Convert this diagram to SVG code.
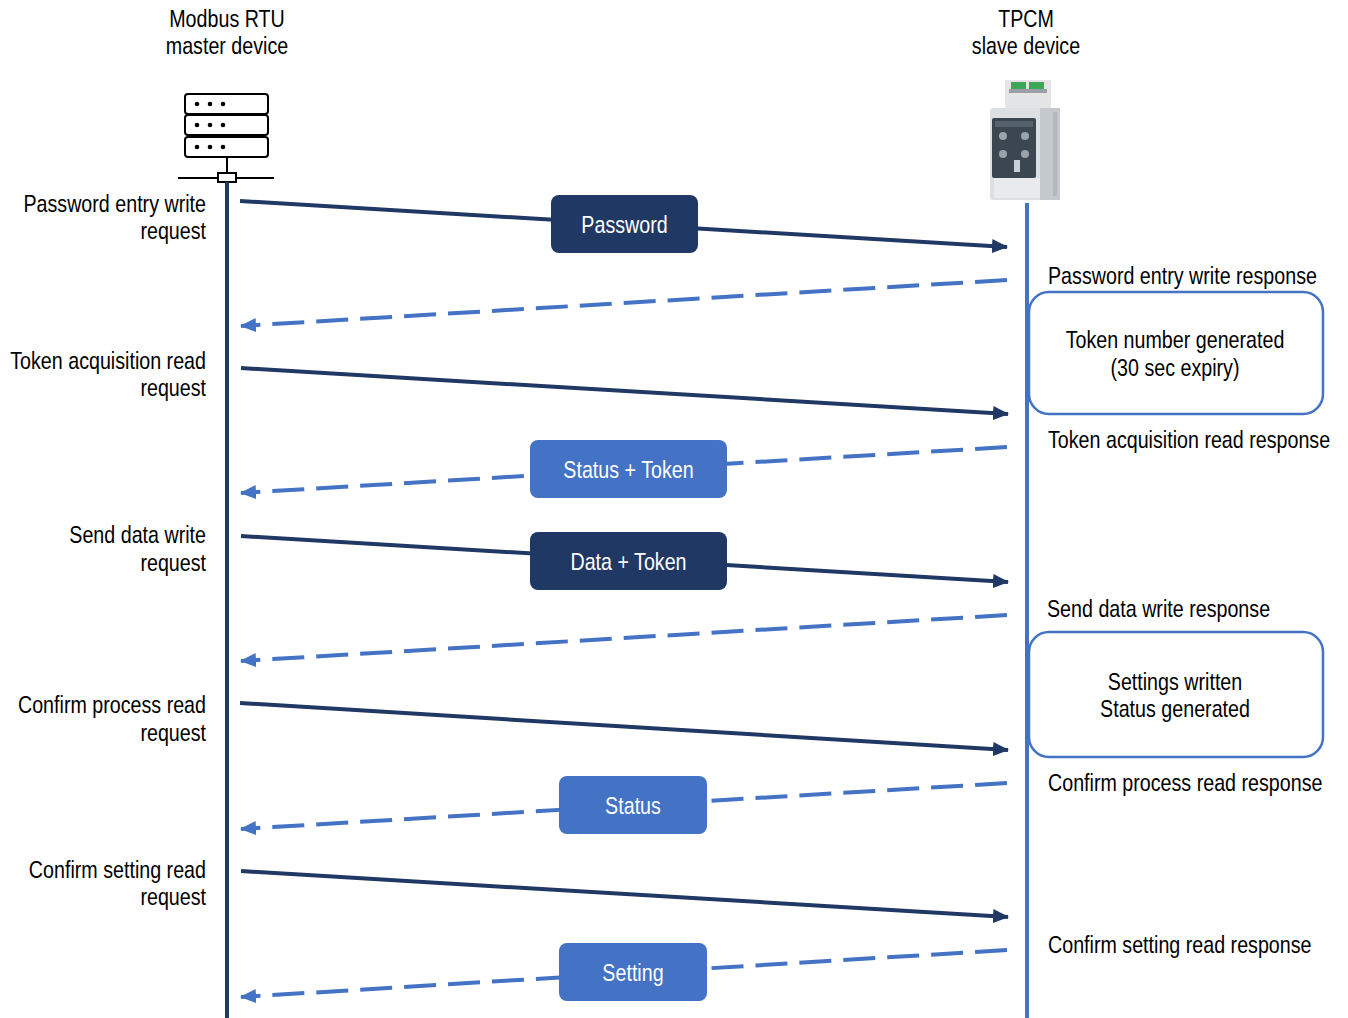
<svg xmlns="http://www.w3.org/2000/svg" width="1348" height="1018" viewBox="0 0 1348 1018">
<style>
text{font-family:"Liberation Sans",Arial,sans-serif;font-size:24px;fill:#000}
.r{text-anchor:end}
.m{text-anchor:middle}
.w{fill:#fff;text-anchor:middle}
.req{stroke:#203864;stroke-width:4;fill:none;marker-end:url(#an)}
.rsp{stroke:#4472C4;stroke-width:4;fill:none;stroke-dasharray:32 12;marker-end:url(#ab)}
.bn{fill:#203864}
.bb{fill:#4472C4}
.note{fill:#fff;stroke:#4472C4;stroke-width:2.5}
.srv{fill:#fff;stroke:#000;stroke-width:2}
</style>
<defs>
<marker id="an" markerUnits="userSpaceOnUse" markerWidth="16" markerHeight="14" refX="15" refY="7" orient="auto"><path d="M0,0 L16,7 L0,14 z" fill="#203864"/></marker>
<marker id="ab" markerUnits="userSpaceOnUse" markerWidth="16" markerHeight="14" refX="15" refY="7" orient="auto"><path d="M0,0 L16,7 L0,14 z" fill="#4472C4"/></marker>
</defs>
<rect width="1348" height="1018" fill="#fff"/>

<g id="master">
<text class="m" transform="translate(227 27) scale(0.82 1)">Modbus RTU</text>
<text class="m" transform="translate(227 54) scale(0.82 1)">master device</text>
<rect class="srv" x="185" y="94" width="83" height="20" rx="3"/>
<rect class="srv" x="185" y="115" width="83" height="20" rx="3"/>
<rect class="srv" x="185" y="137" width="83" height="20" rx="3"/>
<g fill="#000">
<circle cx="197" cy="104" r="2.3"/><circle cx="210" cy="104" r="2.3"/><circle cx="223" cy="104" r="2.3"/>
<circle cx="197" cy="125" r="2.3"/><circle cx="210" cy="125" r="2.3"/><circle cx="223" cy="125" r="2.3"/>
<circle cx="197" cy="147" r="2.3"/><circle cx="210" cy="147" r="2.3"/><circle cx="223" cy="147" r="2.3"/>
</g>
<line x1="227" y1="157" x2="227" y2="173" stroke="#000" stroke-width="2"/>
<line x1="178" y1="178" x2="274" y2="178" stroke="#000" stroke-width="2"/>
<rect x="218" y="173" width="18" height="9" fill="#fff" stroke="#000" stroke-width="2"/>
<line x1="227" y1="182" x2="227" y2="1018" stroke="#203864" stroke-width="4"/>
</g>

<g id="slave">
<text class="m" transform="translate(1026 27) scale(0.82 1)">TPCM</text>
<text class="m" transform="translate(1026 54) scale(0.82 1)">slave device</text>
<rect x="1005" y="80" width="46" height="34" fill="#e3e5e7"/>
<rect x="1011" y="82" width="15" height="7" fill="#3aa857"/>
<rect x="1029" y="82" width="15" height="7" fill="#3aa857"/>
<rect x="1009" y="89" width="38" height="4" fill="#9aa0a5"/>
<rect x="990" y="108" width="70" height="92" rx="3" fill="#dde0e3"/>
<rect x="1040" y="108" width="20" height="92" fill="#c5c9cd"/>
<rect x="1053" y="112" width="4" height="84" fill="#b3b8bd"/>
<rect x="992" y="118" width="44" height="60" rx="2" fill="#3b4650"/>
<rect x="995" y="121" width="38" height="6" fill="#56626c"/>
<g fill="#9aa3aa">
<circle cx="1003" cy="136" r="4"/><circle cx="1025" cy="136" r="4"/>
<circle cx="1003" cy="154" r="4"/><circle cx="1025" cy="154" r="4"/>
</g>
<rect x="1014" y="160" width="6" height="12" fill="#c9d1d6"/>
<rect x="994" y="178" width="46" height="20" fill="#e8eaec"/>
<line x1="1027" y1="203" x2="1027" y2="1018" stroke="#4472C4" stroke-width="4"/>
</g>

<g id="connectors">
<line class="req" x1="240" y1="201" x2="1007" y2="247"/>
<line class="rsp" x1="1007" y1="280" x2="241" y2="326"/>
<line class="req" x1="241" y1="368" x2="1008" y2="414"/>
<line class="rsp" x1="1007" y1="447" x2="241" y2="493"/>
<line class="req" x1="241" y1="536" x2="1008" y2="582"/>
<line class="rsp" x1="1007" y1="615" x2="241" y2="661"/>
<line class="req" x1="240" y1="703" x2="1008" y2="750"/>
<line class="rsp" x1="1007" y1="783" x2="241" y2="829"/>
<line class="req" x1="241" y1="871" x2="1008" y2="917"/>
<line class="rsp" x1="1007" y1="950" x2="241" y2="997"/>
</g>

<g id="msg-password">
<rect class="bn" x="551" y="195" width="147" height="58" rx="8"/>
<text class="w" transform="translate(624.5 233) scale(0.82 1)">Password</text>
</g>
<g id="msg-status-token">
<rect class="bb" x="530" y="440" width="197" height="58" rx="8"/>
<text class="w" transform="translate(628.5 478) scale(0.82 1)">Status + Token</text>
</g>
<g id="msg-data-token">
<rect class="bn" x="530" y="532" width="197" height="58" rx="8"/>
<text class="w" transform="translate(628.5 570) scale(0.82 1)">Data + Token</text>
</g>
<g id="msg-status">
<rect class="bb" x="559" y="776" width="148" height="58" rx="8"/>
<text class="w" transform="translate(633 814) scale(0.82 1)">Status</text>
</g>
<g id="msg-setting">
<rect class="bb" x="559" y="943" width="148" height="58" rx="8"/>
<text class="w" transform="translate(633 981) scale(0.82 1)">Setting</text>
</g>

<g id="note-token">
<rect class="note" x="1029" y="292" width="294" height="122" rx="20"/>
<text class="m" transform="translate(1175 348) scale(0.82 1)">Token number generated</text>
<text class="m" transform="translate(1175 376) scale(0.82 1)">(30 sec expiry)</text>
</g>
<g id="note-settings">
<rect class="note" x="1029" y="632" width="294" height="125" rx="20"/>
<text class="m" transform="translate(1175 690) scale(0.82 1)">Settings written</text>
<text class="m" transform="translate(1175 717) scale(0.82 1)">Status generated</text>
</g>

<g id="req-labels">
<text class="r" transform="translate(206 212) scale(0.82 1)">Password entry write</text>
<text class="r" transform="translate(206 239) scale(0.82 1)">request</text>
<text class="r" transform="translate(206 369) scale(0.82 1)">Token acquisition read</text>
<text class="r" transform="translate(206 396) scale(0.82 1)">request</text>
<text class="r" transform="translate(206 543) scale(0.82 1)">Send data write</text>
<text class="r" transform="translate(206 571) scale(0.82 1)">request</text>
<text class="r" transform="translate(206 713) scale(0.82 1)">Confirm process read</text>
<text class="r" transform="translate(206 741) scale(0.82 1)">request</text>
<text class="r" transform="translate(206 878) scale(0.82 1)">Confirm setting read</text>
<text class="r" transform="translate(206 905) scale(0.82 1)">request</text>
</g>
<g id="rsp-labels">
<text transform="translate(1048 284) scale(0.82 1)">Password entry write response</text>
<text transform="translate(1048 448) scale(0.82 1)">Token acquisition read response</text>
<text transform="translate(1047 617) scale(0.82 1)">Send data write response</text>
<text transform="translate(1048 791) scale(0.82 1)">Confirm process read response</text>
<text transform="translate(1048 953) scale(0.82 1)">Confirm setting read response</text>
</g>
</svg>
